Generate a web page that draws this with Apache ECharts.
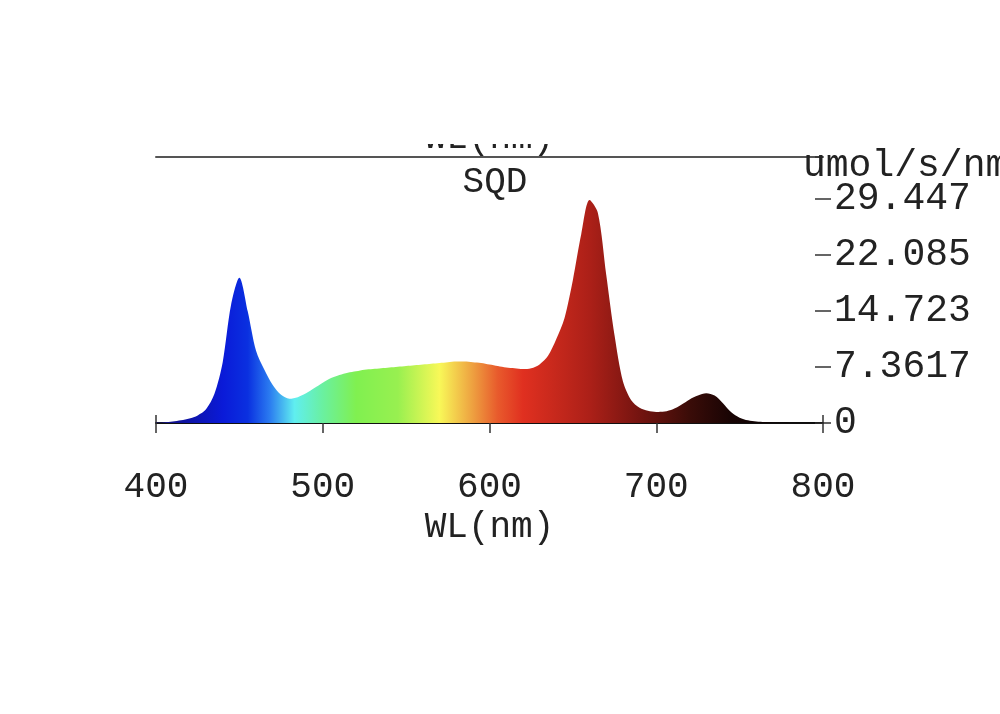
<!DOCTYPE html>
<html>
<head>
<meta charset="utf-8">
<title>SQD</title>
<script src="https://cdn.jsdelivr.net/npm/echarts@6/dist/echarts.min.js"></script>
<style>
  html, body { margin: 0; padding: 0; background: #fff; }
  #chart { width: 1000px; height: 714px; }
</style>
</head>
<body>
<div id="chart"></div>
<script>
// wavelength in nm, every 5 nm
var wavelengths = [
  400, 405, 410, 415, 420, 425, 430, 435, 440, 445,
  450, 455, 460, 465, 470, 475, 480, 485, 490, 495,
  500, 505, 510, 515, 520, 525, 530, 535, 540, 545,
  550, 555, 560, 565, 570, 575, 580, 585, 590, 595,
  600, 605, 610, 615, 620, 625, 630, 635, 640, 645,
  650, 655, 660, 665, 670, 675, 680, 685, 690, 695,
  700, 705, 710, 715, 720, 725, 730, 735, 740, 745,
  750, 755, 760, 765, 770, 775, 780, 785, 790, 795, 800
]
// spectral quantum distribution, umol/s/nm
var sqd = [
  0.05, 0.1, 0.2, 0.35, 0.6, 1.0, 1.8, 3.8, 8.0, 15.5,
  19.1, 14.7, 9.5, 7.0, 5.0, 3.7, 3.2, 3.4, 3.9, 4.6,
  5.3, 5.9, 6.3, 6.6, 6.8, 7.0, 7.1, 7.2, 7.3, 7.4,
  7.5, 7.6, 7.7, 7.8, 7.9, 8.0, 8.1, 8.1, 8.0, 7.9,
  7.7, 7.5, 7.3, 7.2, 7.1, 7.2, 7.7, 8.8, 11.0, 13.8,
  18.8, 24.8, 29.3, 27.6, 19.5, 11.5, 5.5, 3.0, 2.0, 1.6,
  1.45, 1.5, 1.8, 2.4, 3.1, 3.6, 3.9, 3.6, 2.6, 1.4,
  0.7, 0.35, 0.2, 0.12, 0.08, 0.05, 0.04, 0.03, 0.02, 0.02, 0.01
]
var yTickLabels = ['0', '7.3617', '14.723', '22.085', '29.447']
var yStep = 7.3617
var yMax = 34.968

// spectrum colours along the wavelength axis
var spectrumStops = [
  [0, '#1a1a6e'], [0.025, '#101090'], [0.1, '#0a1ad8'], [0.1375, '#0a30e0'],
  [0.17, '#2a7af0'], [0.2075, '#60eef0'], [0.25, '#6af0a0'], [0.3, '#80f050'],
  [0.3625, '#98f050'], [0.425, '#f8f858'], [0.475, '#eea040'], [0.5125, '#e85a2c'],
  [0.55, '#e03020'], [0.65, '#ac2018'], [0.725, '#741410'], [0.8, '#3a0c08'],
  [0.8625, '#180404'], [1, '#000000']
]

var font = '"Liberation Mono", "DejaVu Sans Mono", monospace'
var chart = echarts.init(document.getElementById('chart'))

var points = wavelengths.map(function (w, i) { return [w, sqd[i]] })

chart.setOption({
  animation: false,
  title: {
    text: 'SQD',
    left: 490,
    top: 159,
    textAlign: 'center',
    textStyle: { fontFamily: font, fontSize: 36, fontWeight: 'normal', color: '#222' }
  },
  grid: { left: 156, right: 177, top: 157, bottom: 291 },
  xAxis: [
    {
      type: 'value',
      min: 400,
      max: 800,
      interval: 100,
      position: 'bottom',
      name: 'WL(nm)',
      nameLocation: 'middle',
      nameGap: 86,
      nameTextStyle: { fontFamily: font, fontSize: 36, color: '#222' },
      axisLine: { show: true, onZero: false, lineStyle: { color: '#111', width: 2 } },
      axisTick: { show: true, length: 10, lineStyle: { color: '#333', width: 1.5 } },
      axisLabel: { margin: 46, fontFamily: font, fontSize: 36, color: '#222' },
      splitLine: { show: false }
    },
    {
      type: 'value',
      min: 400,
      max: 800,
      position: 'top',
      name: 'WL(nm)',
      nameLocation: 'middle',
      nameGap: 1,
      nameTextStyle: { fontFamily: font, fontSize: 36, color: '#222' },
      axisLine: { show: true, onZero: false, lineStyle: { color: '#555', width: 2 } },
      axisTick: { show: false },
      axisLabel: { show: false },
      splitLine: { show: false }
    },
    {
      type: 'value',
      min: 400,
      max: 800,
      interval: 400,
      position: 'bottom',
      axisLine: { show: false, onZero: false },
      axisTick: { show: true, inside: true, length: 8, lineStyle: { color: '#333', width: 1.5 } },
      axisLabel: { show: false },
      splitLine: { show: false }
    }
  ],
  yAxis: [
    {
      type: 'value',
      position: 'right',
      min: 0,
      max: yMax,
      interval: yStep,
      axisLine: { show: false },
      axisTick: { show: true, length: 8, lineStyle: { color: '#333', width: 1.5 } },
      axisLabel: {
        margin: 11,
        fontFamily: font,
        fontSize: 38,
        color: '#222',
        showMaxLabel: false,
        formatter: function (v, i) { return yTickLabels[i] !== undefined ? yTickLabels[i] : '' }
      },
      splitLine: { show: false }
    },
    {
      type: 'value',
      position: 'right',
      min: 0,
      max: yMax,
      interval: yStep,
      axisLine: { show: false },
      axisTick: { show: true, inside: true, length: 8, lineStyle: { color: '#333', width: 1.5 } },
      axisLabel: { show: false },
      splitLine: { show: false }
    }
  ],
  graphic: [
    {
      type: 'rect',
      z: 100,
      shape: { x: 0, y: 0, width: 1000, height: 144 },
      style: { fill: '#fff' }
    },
    {
      type: 'text',
      z: 100,
      left: 803,
      top: 147,
      style: { text: 'umol/s/nm', font: '38px ' + font, fill: '#222' }
    }
  ],
  series: [
    {
      name: 'SQD',
      type: 'line',
      xAxisIndex: 0,
      yAxisIndex: 0,
      data: points,
      smooth: 0.3,
      symbol: 'none',
      lineStyle: { width: 0 },
      areaStyle: {
        opacity: 1,
        color: new echarts.graphic.LinearGradient(0, 0, 1, 0, spectrumStops.map(function (s) {
          return { offset: s[0], color: s[1] }
        }))
      },
      z: 1
    }
  ]
})
</script>
</body>
</html>
